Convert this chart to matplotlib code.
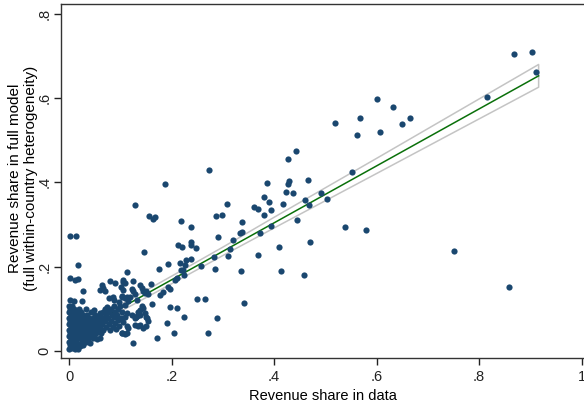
import matplotlib
matplotlib.use("Agg")
import matplotlib.pyplot as plt

plt.rcParams['font.family'] = ['Liberation Sans', 'DejaVu Sans']

# scattered points (data share, model share)
share_data = [
    0.867, 0.904, 0.911, 0.815, 0.600, 0.631, 0.568, 0.666, 0.519, 0.650, 0.562, 0.606,
    0.551, 0.467, 0.491, 0.504, 0.460, 0.443, 0.428, 0.430, 0.428, 0.423, 0.437, 0.417,
    0.469, 0.445, 0.538, 0.579, 0.471, 0.410, 0.750, 0.458, 0.858,
    0.187, 0.274, 0.387, 0.381,
    0.390, 0.308, 0.361, 0.368, 0.393, 0.286, 0.299, 0.380, 0.218, 0.337, 0.238, 0.394,
    0.334, 0.338, 0.373, 0.290, 0.319, 0.213, 0.220, 0.237, 0.237, 0.248, 0.314, 0.369,
    0.283, 0.310, 0.237, 0.229, 0.193, 0.217, 0.226, 0.258, 0.218, 0.223, 0.284, 0.335,
    0.413, 0.224, 0.207, 0.211, 0.193, 0.197, 0.175, 0.183, 0.177, 0.266, 0.250, 0.341,
    0.196, 0.210, 0.225, 0.289, 0.191, 0.204, 0.271,
    0.129, 0.156, 0.163, 0.168, 0.001, 0.013, 0.146, 0.018, 0.002, 0.012, 0.018, 0.028,
    0.113, 0.090, 0.064, 0.067, 0.060, 0.070, 0.080, 0.105, 0.106, 0.077, 0.087, 0.103,
    0.109, 0.116, 0.002, 0.010, 0.025,
    0.106, 0.109, 0.125, 0.122, 0.125, 0.129, 0.138, 0.142, 0.145, 0.148, 0.151, 0.155,
    0.159, 0.101, 0.103, 0.109, 0.118, 0.142, 0.145, 0.138, 0.135, 0.132, 0.129, 0.148,
    0.151, 0.155, 0.151, 0.113, 0.109, 0.106, 0.113, 0.116, 0.103, 0.113, 0.129, 0.138,
    0.145, 0.135, 0.172, 0.125, 0.161, 0.132, 0.152, 0.122, 0.131, 0.138, 0.049, 0.060,
    0.071, 0.060, 0.103, 0.109, 0.097, 0.085, 0.113,
]
share_model = [
    0.704, 0.710, 0.662, 0.603, 0.597, 0.578, 0.552, 0.552, 0.541, 0.538, 0.512, 0.520,
    0.425, 0.405, 0.375, 0.360, 0.357, 0.475, 0.455, 0.402, 0.396, 0.377, 0.374, 0.349,
    0.345, 0.310, 0.295, 0.287, 0.259, 0.247, 0.237, 0.179, 0.151,
    0.395, 0.429, 0.398, 0.365,
    0.353, 0.349, 0.341, 0.337, 0.335, 0.321, 0.322, 0.323, 0.309, 0.306, 0.295, 0.296,
    0.280, 0.281, 0.279, 0.270, 0.262, 0.252, 0.246, 0.259, 0.252, 0.245, 0.241, 0.228,
    0.223, 0.226, 0.219, 0.215, 0.205, 0.208, 0.204, 0.202, 0.192, 0.192, 0.195, 0.189,
    0.190, 0.180, 0.168, 0.172, 0.152, 0.147, 0.193, 0.139, 0.132, 0.123, 0.122, 0.114,
    0.104, 0.102, 0.081, 0.077, 0.065, 0.041, 0.043,
    0.346, 0.320, 0.314, 0.317, 0.273, 0.273, 0.234, 0.203, 0.173, 0.167, 0.171, 0.142,
    0.186, 0.161, 0.157, 0.149, 0.145, 0.142, 0.165, 0.164, 0.144, 0.125, 0.121, 0.127,
    0.109, 0.118, 0.121, 0.118, 0.117,
    0.168, 0.160, 0.166, 0.146, 0.141, 0.135, 0.156, 0.149, 0.142, 0.136, 0.141, 0.135,
    0.158, 0.152, 0.129, 0.125, 0.127, 0.106, 0.101, 0.097, 0.091, 0.083, 0.077, 0.089,
    0.079, 0.071, 0.058, 0.089, 0.080, 0.069, 0.059, 0.053, 0.043, 0.042, 0.061, 0.061,
    0.053, 0.058, 0.030, 0.018, 0.110, 0.120, 0.077, 0.085, 0.081, 0.085, 0.097, 0.089,
    0.092, 0.029, 0.041, 0.039, 0.116, 0.128, 0.128,
]

# dense cloud of small markets near the origin
cluster_x = [
    0.000, 0.005, 0.011, 0.017,
    0.001, 0.007, 0.014, 0.021, 0.028,
    0.000, 0.008, 0.016, 0.025, 0.033, 0.041,
    0.003, 0.011, 0.019, 0.028, 0.037, 0.046, 0.054,
    0.000, 0.007, 0.015, 0.023, 0.031, 0.040, 0.049,
    0.002, 0.010, 0.018, 0.026, 0.034, 0.043, 0.052, 0.062,
    0.000, 0.006, 0.014, 0.022, 0.030, 0.038, 0.047, 0.056, 0.067, 0.080, 0.092,
    0.003, 0.010, 0.018, 0.026, 0.034, 0.042, 0.051, 0.060, 0.072, 0.086, 0.098,
    0.000, 0.007, 0.014, 0.022, 0.030, 0.038, 0.046, 0.055, 0.065, 0.077, 0.090,
    0.002, 0.010, 0.018, 0.026, 0.034, 0.042, 0.050, 0.060, 0.070, 0.082, 0.096,
    0.000, 0.006, 0.014, 0.022, 0.030, 0.038, 0.047, 0.056, 0.066, 0.076, 0.088, 0.101,
    0.003, 0.010, 0.018, 0.027, 0.036, 0.050, 0.061, 0.072, 0.083, 0.094,
    0.000, 0.007, 0.015, 0.024, 0.042, 0.066, 0.078, 0.090, 0.104,
    0.002, 0.010, 0.019, 0.033, 0.070, 0.082, 0.095,
    0.000, 0.006, 0.074, 0.088, 0.100,
]
cluster_y = [
    0.004, 0.006, 0.003, 0.005,
    0.013, 0.012, 0.014, 0.012, 0.013,
    0.020, 0.021, 0.019, 0.021, 0.020, 0.019,
    0.028, 0.027, 0.029, 0.028, 0.027, 0.029, 0.027,
    0.035, 0.036, 0.034, 0.036, 0.035, 0.034, 0.036,
    0.043, 0.042, 0.044, 0.043, 0.042, 0.044, 0.043, 0.042,
    0.050, 0.051, 0.049, 0.050, 0.051, 0.049, 0.050, 0.051, 0.050, 0.049, 0.051,
    0.057, 0.058, 0.056, 0.057, 0.058, 0.056, 0.057, 0.058, 0.057, 0.056, 0.058,
    0.064, 0.065, 0.063, 0.064, 0.065, 0.063, 0.064, 0.065, 0.064, 0.063, 0.065,
    0.071, 0.072, 0.070, 0.071, 0.072, 0.070, 0.071, 0.072, 0.071, 0.070, 0.072,
    0.078, 0.079, 0.077, 0.078, 0.079, 0.077, 0.078, 0.079, 0.078, 0.077, 0.079, 0.078,
    0.085, 0.086, 0.084, 0.085, 0.086, 0.084, 0.085, 0.086, 0.085, 0.084,
    0.092, 0.093, 0.091, 0.092, 0.093, 0.091, 0.092, 0.093, 0.092,
    0.099, 0.100, 0.098, 0.099, 0.100, 0.098, 0.099,
    0.106, 0.107, 0.105, 0.106, 0.107,
]

# linear fit and its confidence band, read at a few x positions
fit_x = [0.0, 0.916]
fit_y = [0.033, 0.653]
ci_x = [0.0, 0.1, 0.2, 0.3, 0.41, 0.6, 0.916]
ci_hi = [0.041, 0.109, 0.177, 0.246, 0.324, 0.457, 0.680]
ci_lo = [0.025, 0.093, 0.159, 0.226, 0.298, 0.421, 0.626]

x_ticks = [0, 0.2, 0.4, 0.6, 0.8, 1.0]
x_tick_labels = ['0', '.2', '.4', '.6', '.8', '1']
y_ticks = [0, 0.2, 0.4, 0.6, 0.8]
y_tick_labels = ['0', '.2', '.4', '.6', '.8']

navy = '#1a476f'

fig = plt.figure(figsize=(5.84, 4.04), dpi=100)
ax = fig.add_axes([0.1045, 0.1139, 0.8955, 0.875])

# confidence band as an outline only (like Stata's lfitci with no fill)
band_x = ci_x + ci_x[::-1] + [ci_x[0]]
band_y = ci_hi + ci_lo[::-1] + [ci_hi[0]]
ax.plot(band_x, band_y, color='#c4c4c4', lw=1.1, zorder=1)
ax.plot(fit_x, fit_y, color='#0a700a', lw=1.1, zorder=2)

ax.scatter(cluster_x, cluster_y, s=20, color=navy, linewidths=0, zorder=3)
ax.scatter(share_data, share_model, s=20, color=navy, linewidths=0, zorder=3)

ax.set_xlim(-0.0156, 1.0045)
ax.set_ylim(-0.0173, 0.8225)
ax.set_xticks(x_ticks)
ax.set_xticklabels(x_tick_labels)
ax.set_yticks(y_ticks)
ax.set_yticklabels(y_tick_labels, rotation=90, va='center')

ax.tick_params(direction='out', length=5, width=1, labelsize=10.5, colors='#222222')
ax.tick_params(axis='x', pad=4)
ax.tick_params(axis='y', pad=2)
for side in ['left', 'bottom', 'top']:
    ax.spines[side].set_color('#333333')
    ax.spines[side].set_linewidth(1.0)
ax.spines['right'].set_visible(False)

ax.set_xlabel('Revenue share in data', fontsize=10.5, labelpad=3)

# two-line y title, placed like the Stata original
fig.text(15 / 584, 0.559, 'Revenue share in full model', rotation=90,
         ha='center', va='center', fontsize=11)
fig.text(31 / 584, 0.559, '(full within-country heterogeneity)', rotation=90,
         ha='center', va='center', fontsize=11)

fig.savefig('out.png', dpi=100)
